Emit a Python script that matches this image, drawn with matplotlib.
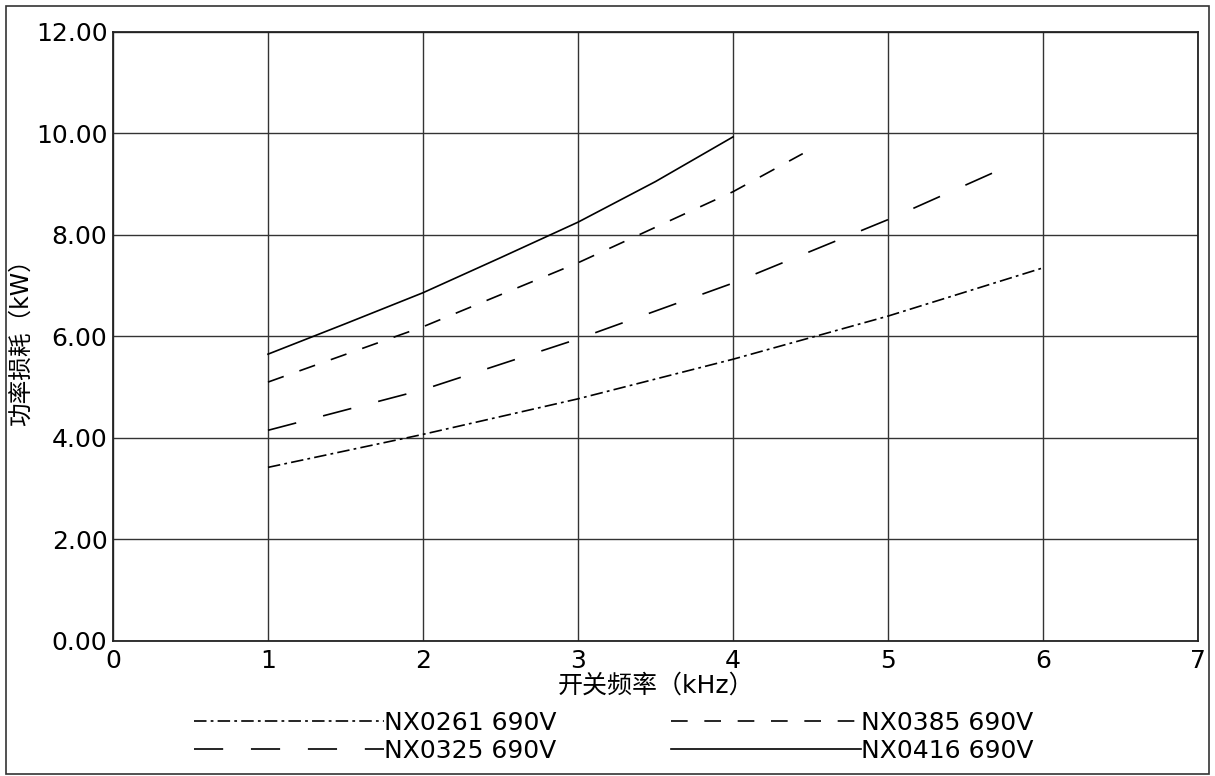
import matplotlib
matplotlib.use('Agg')
import matplotlib.pyplot as plt
from matplotlib.patches import Rectangle
from matplotlib.ticker import FormatStrFormatter

plt.rcParams['font.family'] = ['DejaVu Sans', 'Noto Sans CJK SC']
plt.rcParams['lines.scale_dashes'] = False

# values
x_0261 = [1, 2, 3, 4, 5, 6]
y_0261 = [3.42, 4.07, 4.77, 5.55, 6.40, 7.35]

x_0325 = [1, 2, 3, 4, 5, 5.72]
y_0325 = [4.15, 4.95, 5.95, 7.05, 8.30, 9.28]

x_0385 = [1, 2, 3, 4, 4.45]
y_0385 = [5.10, 6.19, 7.45, 8.85, 9.60]

x_0416 = [1, 1.5, 2, 2.5, 3, 3.5, 4]
y_0416 = [5.65, 6.25, 6.86, 7.55, 8.25, 9.05, 9.93]

labels = ['NX0261 690V', 'NX0325 690V', 'NX0385 690V', 'NX0416 690V']
xticks = [0, 1, 2, 3, 4, 5, 6, 7]
yticks = [0, 2, 4, 6, 8, 10, 12]

fig = plt.figure(figsize=(12.15, 7.76), dpi=100)
ax = fig.add_axes([0.093, 0.174, 0.893, 0.785])

lw = 1.2
ax.plot(x_0261, y_0261, color='black', lw=lw, dashes=(9, 3, 2, 3), label=labels[0])
ax.plot(x_0325, y_0325, color='black', lw=lw, dashes=(21, 20), label=labels[1])
ax.plot(x_0385, y_0385, color='black', lw=lw, dashes=(12, 12), label=labels[2])
ax.plot(x_0416, y_0416, color='black', lw=lw, label=labels[3])

ax.set_xlim(0, 7)
ax.set_ylim(0, 12)
ax.set_xticks(xticks)
ax.set_yticks(yticks)
ax.yaxis.set_major_formatter(FormatStrFormatter('%.2f'))
ax.tick_params(length=0, labelsize=18)
ax.tick_params(axis='x', pad=6)
ax.tick_params(axis='y', pad=4)
for t in ax.get_yticklabels():
    t.set_va('center_baseline')
ax.grid(True, color='#333333', lw=1.0)
ax.set_axisbelow(True)
for s in ax.spines.values():
    s.set_color('#222222')
    s.set_linewidth(1.3)

ax.set_xlabel('开关频率（kHz）', fontsize=18, labelpad=0.5)
ax.set_ylabel('功率损耗（kW）', fontsize=17, labelpad=2)

fig.legend(loc='lower center', bbox_to_anchor=(0.505, -0.012), ncol=2, frameon=False,
           fontsize=18, handlelength=7.6, handletextpad=0.0, columnspacing=4.6,
           labelspacing=0.15)

fig.patches.append(Rectangle((0.005, 0.002), 0.99, 0.99, transform=fig.transFigure,
                             fill=False, edgecolor='#333333', lw=1.2))

fig.savefig('out.png', dpi=100)
